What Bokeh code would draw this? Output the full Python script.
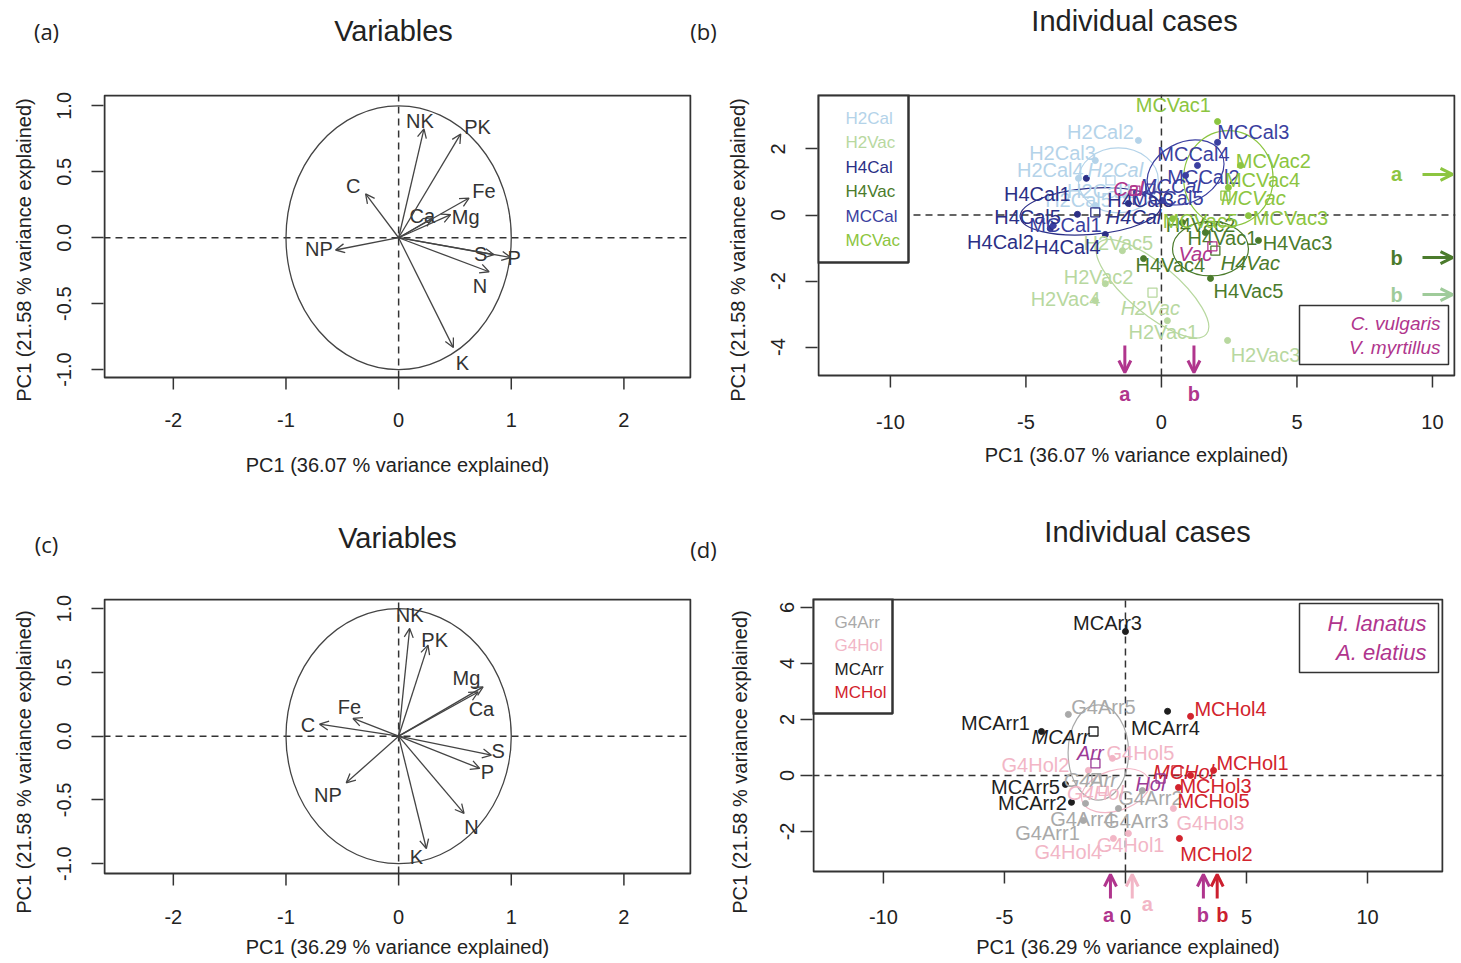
import numpy as np
from bokeh.plotting import figure
from bokeh.layouts import row, column
from bokeh.models import Label, Arrow, OpenHead, FixedTicker, ColumnDataSource, Range1d
from bokeh.embed import file_html
from bokeh.resources import INLINE
from bokeh.core.properties import value

FONT = "Liberation Sans"
LETTER_FONT = "Open Sans"
AX = "#333333"
MAGENTA = "#b0358d"

# ---------------- panel (a): variables, first PCA ----------------
a_vars = ["NK", "PK", "C", "Fe", "Mg", "Ca", "NP", "S", "P", "N", "K"]
a_tip_x = [0.225, 0.551, -0.293, 0.625, 0.462, 0.30, -0.56, 0.847, 0.996, 0.803, 0.486]
a_tip_y = [0.825, 0.787, 0.332, 0.301, 0.175, 0.15, -0.093, -0.129, -0.15, -0.258, -0.833]
a_lab_x = [0.189, 0.70, -0.403, 0.758, 0.596, 0.211, -0.708, 0.729, 1.025, 0.723, 0.566]
a_lab_y = [0.883, 0.837, 0.395, 0.357, 0.16, 0.167, -0.086, -0.124, -0.15, -0.364, -0.947]

# ---------------- panel (c): variables, second PCA ----------------
c_vars = ["NK", "PK", "Mg", "Ca", "Fe", "C", "S", "P", "NP", "N", "K"]
c_tip_x = [0.098, 0.261, 0.75, 0.706, -0.405, -0.702, 0.824, 0.72, -0.465, 0.581, 0.246]
c_tip_y = [0.845, 0.714, 0.387, 0.347, 0.139, 0.094, -0.149, -0.253, -0.366, -0.606, -0.881]
c_lab_x = [0.098, 0.32, 0.602, 0.735, -0.436, -0.805, 0.884, 0.788, -0.628, 0.646, 0.157]
c_lab_y = [0.949, 0.753, 0.453, 0.217, 0.23, 0.086, -0.115, -0.28, -0.463, -0.711, -0.947]

var_ticks_x = [-2, -1, 0, 1, 2]
var_ticklabels_x = ["-2", "-1", "0", "1", "2"]
var_ticks_y = [-1.0, -0.5, 0.0, 0.5, 1.0]
var_ticklabels_y = ["-1.0", "-0.5", "0.0", "0.5", "1.0"]

# ---------------- panel (b): individual cases, Calluna / Vaccinium ----------------
b_groups = ["H2Cal", "H2Vac", "H4Cal", "H4Vac", "MCCal", "MCVac"]
b_colors = ["#b4d3e9", "#b8d89f", "#2b2f86", "#4b7b2c", "#3b3fa0", "#8cc540"]

b_name = ["H2Cal1", "H2Cal2", "H2Cal3", "H2Cal4", "H2Cal5",
          "H2Vac1", "H2Vac2", "H2Vac3", "H2Vac4", "H2Vac5",
          "H4Cal1", "H4Cal2", "H4Cal3", "H4Cal4", "H4Cal5",
          "H4Vac1", "H4Vac2", "H4Vac3", "H4Vac4", "H4Vac5",
          "MCCal1", "MCCal2", "MCCal3", "MCCal4", "MCCal5",
          "MCVac1", "MCVac2", "MCVac3", "MCVac4", "MCVac5"]
b_grp = [n[:-1] for n in b_name]
b_x = [-1.33, -0.85, -2.44, -3.06, -2.44,
       0.22, -2.07, 2.44, -2.44, -1.44,
       -2.77, -4.10, -1.22, -2.07, -3.10,
       1.62, 0.77, 3.58, -0.66, 1.81,
       -3.99, 0.89, 2.07, 1.33, 0.04,
       2.07, 2.92, 3.21, 2.47, 0.41]
b_y = [0.59, 2.26, 1.65, 1.11, 0.29,
       -3.20, -2.08, -3.80, -2.59, -1.08,
       1.11, -0.41, 0.35, -0.59, 0.02,
       -0.53, -0.23, -0.77, -1.32, -1.92,
       -0.32, 1.20, 2.20, 1.50, 0.44,
       2.83, 1.50, -0.02, 0.83, -0.11]
b_lx = [-2.25, -2.25, -3.65, -4.10, -3.06,
        0.07, -2.32, 3.84, -3.54, -1.59,
        -4.58, -5.94, -0.77, -3.47, -4.94,
        2.25, 1.44, 5.02, 0.33, 3.21,
        -3.54, 1.55, 3.39, 1.18, 0.22,
        0.44, 4.13, 4.76, 3.73, 1.44]
b_ly = [0.74, 2.50, 1.89, 1.35, 0.44,
        -3.53, -1.89, -4.23, -2.53, -0.86,
        0.65, -0.83, 0.44, -0.98, -0.05,
        -0.71, -0.29, -0.86, -1.50, -2.29,
        -0.29, 1.14, 2.50, 1.86, 0.53,
        3.32, 1.65, -0.08, 1.05, -0.17]

# group centroids (open squares + italic labels)
b_cen_x = [-1.88, -0.33, -2.44, 1.99, -0.41, 2.36]
b_cen_y = [1.05, -2.35, 0.08, -1.08, 0.80, 0.59]
b_cen_lx = [-1.70, -0.41, -1.03, 3.28, 0.33, 3.39]
b_cen_ly = [1.35, -2.83, -0.05, -1.44, 0.89, 0.53]
# group ellipses: centre, width, height, angle
b_ell_x = [-1.59, -0.33, -2.62, 1.81, 0.89, 2.47]
b_ell_y = [1.05, -2.23, 0.11, -1.02, 1.29, 1.11]
b_ell_w = [2.95, 5.2, 5.2, 2.8, 3.0, 3.3]
b_ell_h = [1.97, 1.5, 1.4, 1.65, 1.8, 2.9]
b_ell_a = [0.0, -0.7, 0.08, 0.0, 0.5, 0.0]

# species centroids
b_sp_name = ["Cal", "Vac"]
b_sp_full = ["C. vulgaris", "V. myrtillus"]
b_sp_x = [-0.96, 1.88]
b_sp_y = [0.74, -0.95]
b_sp_lx = [-1.22, 1.25]
b_sp_ly = [0.80, -1.17]

# significance letters
b_bottom_x = [-1.35, 1.20]
b_bottom_lab = ["a", "b"]
b_right_y = [1.23, -1.29, -2.41]
b_right_lab = ["a", "b", "b"]
b_right_col = ["#8cc540", "#4b7b2c", "#9fcb9a"]

b_ticks_x = [-10, -5, 0, 5, 10]
b_ticks_y = [-4, -2, 0, 2]

# ---------------- panel (d): individual cases, Arrhenatherum / Holcus ----------------
d_groups = ["G4Arr", "G4Hol", "MCArr", "MCHol"]
d_colors = ["#a9a9a9", "#f2b6c6", "#1e1e1e", "#d2232d"]

d_name = ["G4Arr1", "G4Arr2", "G4Arr3", "G4Arr4", "G4Arr5",
          "G4Hol1", "G4Hol2", "G4Hol3", "G4Hol4", "G4Hol5",
          "MCArr1", "MCArr2", "MCArr3", "MCArr4", "MCArr5",
          "MCHol1", "MCHol2", "MCHol3", "MCHol4", "MCHol5"]
d_grp = [n[:-1] for n in d_name]
d_x = [-1.74, 0.70, -0.29, -1.65, -2.36,
       0.12, -1.53, 1.98, -0.50, -0.54,
       -3.47, -2.23, 0.00, 1.74, -2.48,
       3.64, 2.23, 2.69, 2.69, 2.19]
d_y = [-1.61, -0.54, -1.18, -1.00, 2.18,
       -2.07, 0.18, -1.18, -2.25, 0.61,
       1.57, -0.96, 5.14, 2.29, -0.32,
       0.18, -2.25, 0.00, 2.11, -0.43]
d_lx = [-3.22, 1.03, 0.45, -1.78, -0.91,
        0.21, -3.72, 3.51, -2.36, 0.62,
        -5.37, -3.84, -0.74, 1.65, -4.13,
        5.25, 3.76, 3.72, 4.34, 3.64]
d_ly = [-2.07, -0.82, -1.61, -1.54, 2.46,
        -2.50, 0.39, -1.71, -2.75, 0.79,
        1.86, -1.00, 5.43, 1.71, -0.43,
        0.43, -2.79, -0.36, 2.39, -0.93]

d_cen_x = [-1.20, -0.90, -1.32, 2.11]
d_cen_y = [-0.10, -0.55, 1.57, 0.18]
d_cen_lx = [-1.45, -1.24, -2.69, 2.40]
d_cen_ly = [-0.18, -0.61, 1.36, 0.11]
d_ell_x = [-1.12, -0.41]
d_ell_y = [0.82, -0.54]
d_ell_w = [2.5, 2.9]
d_ell_h = [3.4, 1.45]
d_ell_a = [0.0, 0.3]

d_sp_name = ["Arr", "Hol"]
d_sp_full = ["H. lanatus", "A. elatius"]
d_sp_x = [-1.24, 1.45]
d_sp_y = [0.43, -0.11]
d_sp_lx = [-1.45, 1.03]
d_sp_ly = [0.79, -0.29]

d_bottom_x = [-0.62, 0.28, 3.22, 3.79]
d_bottom_lab = ["a", "a", "b", "b"]
d_bottom_lab_x = [-0.70, 0.90, 3.20, 4.00]
d_bottom_col = [MAGENTA, "#f2b6c6", MAGENTA, "#cc1f2f"]

d_ticks_x = [-10, -5, 0, 5, 10]
d_ticks_y = [-2, 0, 2, 4, 6]

XT_A = "PC1 (36.07 % variance explained)"
XT_C = "PC1 (36.29 % variance explained)"
YT = "PC1 (21.58 % variance explained)"

# ---------------- page geometry (pixels) ----------------
# figure box (origin x, origin y, width, height), plotting frame (l, r, t, b),
# bottom edge of the drawn plot box (the frame reaches further down so that the
# significance arrows and letters under the box can be drawn inside it)
GEOM = {
    "a": ((0, 60, 700, 425), (103, 691, 94, 405), 377),
    "b": ((700, 60, 761, 425), (817, 1455, 94, 405), 375),
    "c": ((0, 570, 700, 393), (103, 691, 598, 925), 873),
    "d": ((700, 570, 761, 393), (812, 1443, 598, 925), 871),
}
RANGES = {
    "a": ((-2.62, 2.60), (-1.272, 1.086)),
    "b": ((-12.69, 10.85), (-5.77, 3.65)),
    "c": ((-2.62, 2.60), (-1.485, 1.08)),
    "d": ((-12.93, 13.14), (-5.36, 6.32)),
}


def px2data(key, px, py):
    (ox, oy, w, h), (fx0, fx1, fy0, fy1), _ = GEOM[key]
    (x0, x1), (y0, y1) = RANGES[key]
    x = x0 + (px - fx0) / (fx1 - fx0) * (x1 - x0)
    y = y1 - (py - fy0) / (fy1 - fy0) * (y1 - y0)
    return x, y


def setup_panel(key, xt, xl, yt, yl, xtitle, xst, xtst, yst, ytst):
    (ox, oy, w, h), (fx0, fx1, fy0, fy1), box_b = GEOM[key]
    xr, yr = RANGES[key]
    p = figure(width=w, height=h, x_range=Range1d(*xr), y_range=Range1d(*yr),
               output_backend="svg", toolbar_location=None,
               min_border_left=fx0 - ox, min_border_right=ox + w - fx1,
               min_border_top=fy0 - oy, min_border_bottom=oy + h - fy1)
    p.grid.visible = False
    p.outline_line_color = None
    p.background_fill_color = "white"
    p.border_fill_color = "white"

    xa, ya = p.xaxis[0], p.yaxis[0]
    xa.ticker = FixedTicker(ticks=xt)
    ya.ticker = FixedTicker(ticks=yt)
    xa.major_label_overrides = {t: l for t, l in zip(xt, xl)}
    ya.major_label_overrides = {t: l for t, l in zip(yt, yl)}
    for ax in (xa, ya):
        ax.major_tick_in = 0
        ax.minor_tick_line_color = None
        ax.axis_line_color = None
        ax.major_tick_line_color = AX
        ax.major_tick_line_width = 1.5
        ax.major_label_text_font = FONT
        ax.major_label_text_font_size = "20px"
        ax.major_label_text_color = "#222222"
        ax.axis_label_text_font = FONT
        ax.axis_label_text_font_size = "20px"
        ax.axis_label_text_font_style = "normal"
        ax.axis_label_text_color = "#222222"
    ya.major_tick_out = 12
    xa.major_tick_out = 0
    xa.major_tick_line_color = None
    xa.axis_label = xtitle
    ya.axis_label = YT
    ya.major_label_orientation = "vertical"
    xa.major_label_standoff = xst
    xa.axis_label_standoff = xtst
    ya.major_label_standoff = yst
    ya.axis_label_standoff = ytst

    ybox = px2data(key, 0, box_b)[1]
    # dashed zero lines, kept inside the plot box
    p.segment(x0=[xr[0], 0], x1=[xr[1], 0], y0=[0, ybox], y1=[0, yr[1]],
              line_color=AX, line_dash="7 5", line_width=1.5)
    return p, ybox


def finish_panel(p, key, xt, ybox):
    (ox, oy, w, h), (fx0, fx1, fy0, fy1), box_b = GEOM[key]
    bl, bt = px2data(key, fx0 + 1, fy0 + 1)
    br, _ = px2data(key, fx1 - 1, 0)
    p.quad(left=bl, right=br, top=bt, bottom=ybox, fill_color=None,
           line_color=AX, line_width=2)
    ytick_end = px2data(key, 0, box_b + 12)[1]
    p.segment(x0=xt, x1=xt, y0=[ybox] * len(xt), y1=[ytick_end] * len(xt),
              line_color=AX, line_width=1.5)


def variables_panel(key, names, tx, ty, lx, ly, xtitle, xst, xtst):
    p, ybox = setup_panel(key, var_ticks_x, var_ticklabels_x, var_ticks_y,
                          var_ticklabels_y, xtitle, xst, xtst, 20, 20)
    p.ellipse(x=0, y=0, width=2, height=2, fill_color=None, line_color="#444444",
              line_width=1.3)
    src = ColumnDataSource(dict(x=tx, y=ty))
    p.add_layout(Arrow(end=OpenHead(size=9, line_color="#444444", line_width=1.3),
                       x_start=0, y_start=0, x_end="x", y_end="y", source=src,
                       line_color="#444444", line_width=1.3))
    p.text(x=lx, y=ly, text=names, text_align="center", text_baseline="middle",
           text_font=value(FONT), text_font_size="20px", text_color="#333333")
    finish_panel(p, key, var_ticks_x, ybox)
    return p


def cases_panel(key, groups, colors, names, grp, x, y, lxs, lys,
                cx, cy, clx, cly, ex, ey, ew, eh, ea,
                spn, spx, spy, splx, sply, sp_color, xt, yt, xtitle,
                xst, xtst, yst, ytst, legend_px):
    xr, yr = RANGES[key]
    p, ybox = setup_panel(key, xt, [str(t) for t in xt], yt, [str(t) for t in yt],
                          xtitle, xst, xtst, yst, ytst)
    cmap = dict(zip(groups, colors))
    p.ellipse(x=ex, y=ey, width=ew, height=eh, angle=ea, fill_color=None,
              line_color=[cmap[g] for g in groups[:len(ex)]], line_width=1.2)
    pts = ColumnDataSource(dict(x=x, y=y, lx=lxs, ly=lys, name=names,
                                col=[cmap[g] for g in grp]))
    p.scatter("x", "y", source=pts, size=6, color="col")
    p.text("lx", "ly", text="name", source=pts, text_color="col",
           text_align="center", text_baseline="middle",
           text_font=value(FONT), text_font_size="20px")
    cen = ColumnDataSource(dict(x=cx, y=cy, lx=clx, ly=cly, name=groups, col=colors))
    p.scatter("x", "y", source=cen, marker="square", size=9, fill_color=None,
              line_color="col", line_width=1.3)
    p.text("lx", "ly", text="name", source=cen, text_color="col",
           text_align="center", text_baseline="middle", text_font_style="italic",
           text_font=value(FONT), text_font_size="20px")
    sp = ColumnDataSource(dict(x=spx, y=spy, lx=splx, ly=sply, name=spn))
    p.scatter("x", "y", source=sp, marker="square", size=9, fill_color=None,
              line_color=sp_color, line_width=1.3)
    p.text("lx", "ly", text="name", source=sp, text_color=sp_color,
           text_align="center", text_baseline="middle", text_font_style="italic",
           text_font=value(FONT), text_font_size="20px")
    # group legend box (top-left corner of the box)
    lr, lb = px2data(key, legend_px[0], legend_px[1])
    p.quad(left=xr[0], right=lr, top=yr[1], bottom=lb, fill_color="white",
           line_color=AX, line_width=2.5)
    finish_panel(p, key, xt, ybox)
    return p


# ---------------- build (a) and (c) ----------------
pa = variables_panel("a", a_vars, a_tip_x, a_tip_y, a_lab_x, a_lab_y, XT_A, 7, 24)
pc = variables_panel("c", c_vars, c_tip_x, c_tip_y, c_lab_x, c_lab_y, XT_C, -16, 9)

# ---------------- build (b) ----------------
pb = cases_panel("b", b_groups, b_colors, b_name, b_grp, b_x, b_y, b_lx, b_ly,
                 b_cen_x, b_cen_y, b_cen_lx, b_cen_ly,
                 b_ell_x, b_ell_y, b_ell_w, b_ell_h, b_ell_a,
                 b_sp_name, b_sp_x, b_sp_y, b_sp_lx, b_sp_ly, MAGENTA,
                 b_ticks_x, b_ticks_y, XT_A, 9, 12, 20, 20, (908, 262))

leg_x, _ = px2data("b", 845, 0)
for i, (g, c) in enumerate(zip(b_groups, b_colors)):
    _, ly = px2data("b", 0, 118 + 24.4 * i)
    pb.add_layout(Label(x=leg_x, y=ly, text=g, text_color=c, text_baseline="middle",
                        text_font=FONT, text_font_size="17px"))
s_l, s_t = px2data("b", 1299, 305)
s_r, s_b = px2data("b", 1448, 364)
pb.quad(left=s_l, right=s_r, top=s_t, bottom=s_b, fill_color="white",
        line_color=AX, line_width=1.5)
for i, t in enumerate(b_sp_full):
    sx, sy = px2data("b", 1440, 323 + 24 * i)
    pb.add_layout(Label(x=sx, y=sy, text=t, text_color=MAGENTA, text_align="right",
                        text_baseline="middle", text_font=FONT, text_font_size="19px",
                        text_font_style="italic"))
_, ya0 = px2data("b", 0, 345)
_, ya1 = px2data("b", 0, 372)
_, yal = px2data("b", 0, 393)
for xv in b_bottom_x:
    pb.add_layout(Arrow(end=OpenHead(size=12, line_color=MAGENTA, line_width=3),
                        x_start=xv, y_start=ya0, x_end=xv, y_end=ya1,
                        line_color=MAGENTA, line_width=3))
pb.text(x=b_bottom_x, y=[yal] * len(b_bottom_x), text=b_bottom_lab, text_color=MAGENTA,
        text_align="center", text_baseline="middle", text_font=value(FONT),
        text_font_size="20px", text_font_style="bold")
xa0, _ = px2data("b", 1422, 0)
xa1, _ = px2data("b", 1452, 0)
xal, _ = px2data("b", 1396, 0)
for yv, col in zip(b_right_y, b_right_col):
    pb.add_layout(Arrow(end=OpenHead(size=12, line_color=col, line_width=3),
                        x_start=xa0, y_start=yv, x_end=xa1, y_end=yv,
                        line_color=col, line_width=3))
pb.text(x=[xal] * len(b_right_y), y=b_right_y, text=b_right_lab, text_color=b_right_col,
        text_align="center", text_baseline="middle", text_font=value(FONT),
        text_font_size="20px", text_font_style="bold")

# ---------------- build (d) ----------------
pd_ = cases_panel("d", d_groups, d_colors, d_name, d_grp, d_x, d_y, d_lx, d_ly,
                  d_cen_x, d_cen_y, d_cen_lx, d_cen_ly,
                  d_ell_x, d_ell_y, d_ell_w, d_ell_h, d_ell_a,
                  d_sp_name, d_sp_x, d_sp_y, d_sp_lx, d_sp_ly, "#9b3a96",
                  d_ticks_x, d_ticks_y, XT_C, -16, 9, 6, 27, (892, 713))

dleg_x, _ = px2data("d", 834, 0)
for i, (g, c) in enumerate(zip(d_groups, d_colors)):
    _, ly = px2data("d", 0, 622 + 23.3 * i)
    pd_.add_layout(Label(x=dleg_x, y=ly, text=g, text_color=c, text_baseline="middle",
                         text_font=FONT, text_font_size="17px"))
s_l, s_t = px2data("d", 1299, 603)
s_r, s_b = px2data("d", 1438, 672)
pd_.quad(left=s_l, right=s_r, top=s_t, bottom=s_b, fill_color="white",
         line_color=AX, line_width=1.5)
for i, t in enumerate(d_sp_full):
    sx, sy = px2data("d", 1426, 623 + 29 * i)
    pd_.add_layout(Label(x=sx, y=sy, text=t, text_color=MAGENTA, text_align="right",
                         text_baseline="middle", text_font=FONT, text_font_size="22px",
                         text_font_style="italic"))
_, ya0 = px2data("d", 0, 898)
_, ya1 = px2data("d", 0, 874)
for xv, col in zip(d_bottom_x, d_bottom_col):
    pd_.add_layout(Arrow(end=OpenHead(size=12, line_color=col, line_width=3),
                         x_start=xv, y_start=ya0, x_end=xv, y_end=ya1,
                         line_color=col, line_width=3))
d_lab_y = [px2data("d", 0, 903 if c == "#f2b6c6" else 914)[1] for c in d_bottom_col]
pd_.text(x=d_bottom_lab_x, y=d_lab_y, text=d_bottom_lab, text_color=d_bottom_col,
         text_align="center", text_baseline="middle", text_font=value(FONT),
         text_font_size="20px", text_font_style="bold")


# ---------------- header strips with panel letters and titles ----------------
def header(height, texts, xs, ys, sizes, fonts):
    h = figure(width=1461, height=height, x_range=Range1d(0, 1461),
               y_range=Range1d(height, 0), output_backend="svg", toolbar_location=None,
               min_border=0)
    h.axis.visible = False
    h.grid.visible = False
    h.outline_line_color = None
    h.background_fill_color = "white"
    h.border_fill_color = "white"
    for t, x, y, s, f in zip(texts, xs, ys, sizes, fonts):
        h.text(x=[x], y=[y], text=[t], text_align="center", text_baseline="middle",
               text_font=value(f), text_font_size=s, text_color="#222222")
    return h


head1 = header(60, ["(a)", "Variables", "(b)", "Individual cases"],
               [46, 393, 703, 1134], [30, 30, 30, 20],
               ["22px", "29px", "22px", "29px"], [LETTER_FONT, FONT, LETTER_FONT, FONT])
head2 = header(85, ["(c)", "Variables", "(d)", "Individual cases"],
               [46, 397, 703, 1147], [58, 52, 63, 46],
               ["22px", "29px", "22px", "29px"], [LETTER_FONT, FONT, LETTER_FONT, FONT])

layout = column(head1, row(pa, pb), head2, row(pc, pd_))
open("out.html", "w").write(file_html(layout, INLINE))
